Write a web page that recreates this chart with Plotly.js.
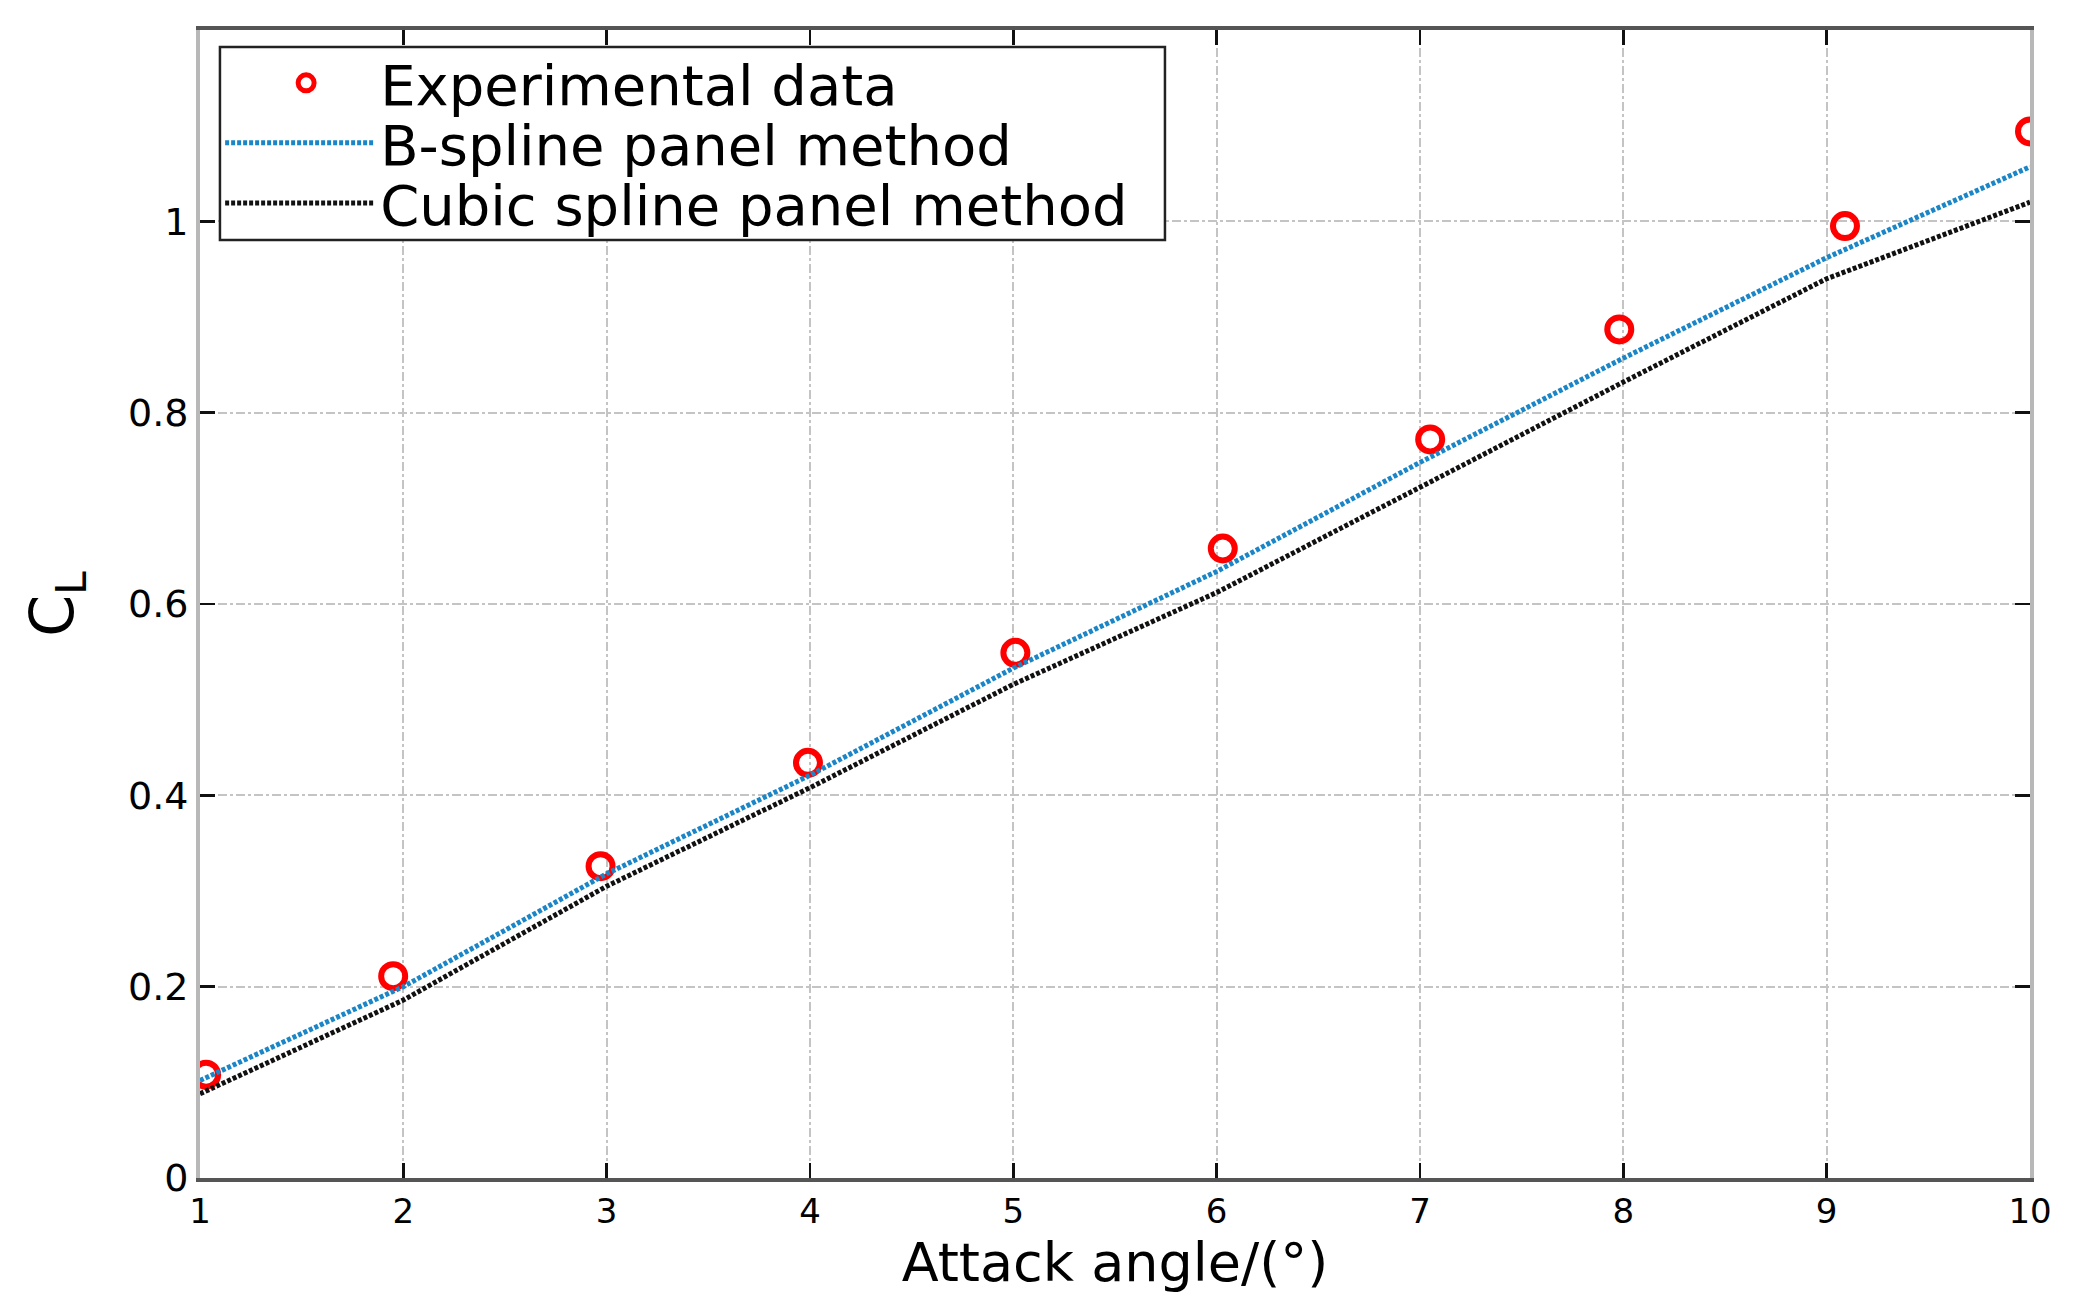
<!DOCTYPE html>
<html><head><meta charset="utf-8">
<script src="https://cdn.plot.ly/plotly-3.0.1.min.js"></script>
<style>html,body{margin:0;padding:0;background:#fff}#chart{width:2080px;height:1310px}</style>
</head><body><div id="chart"></div>
<script>
// ---- data ----
const expAngle = [1.03, 1.95, 2.97, 3.99, 5.01, 6.03, 7.05, 7.98, 9.09, 10.0];
const expCL = [0.108, 0.211, 0.326, 0.434, 0.549, 0.658, 0.772, 0.887, 0.995, 1.094];
const angle = [1, 2, 3, 4, 5, 6, 7, 8, 9, 10];
const bsplineCL = [0.102, 0.200, 0.318, 0.421, 0.533, 0.634, 0.748, 0.857, 0.962, 1.057];
const cubicCL = [0.088, 0.186, 0.305, 0.408, 0.516, 0.612, 0.722, 0.832, 0.940, 1.020];
const seriesNames = ['Experimental data', 'B-spline panel method', 'Cubic spline panel method'];
const xTickVals = [1, 2, 3, 4, 5, 6, 7, 8, 9, 10];
const yTickVals = [0, 0.2, 0.4, 0.6, 0.8, 1];
const yTickText = ['0', '0.2', '0.4', '0.6', '0.8', '1'];
const xTitle = 'Attack angle/(°)';
const yTitle = 'C<sub>L</sub>';

const FONT = 'DejaVu Sans, Arial, sans-serif';
const LEG_FONT = {family: FONT, size: 56, color: '#000'};

const traces = [
  {x: expAngle, y: expCL, name: seriesNames[0], type: 'scatter', mode: 'markers', legend: 'legend',
   marker: {symbol: 'circle-open', size: 24, color: '#ff0000', line: {width: 6, color: '#ff0000'}}},
  {x: angle, y: bsplineCL, name: seriesNames[1], type: 'scatter', mode: 'lines', legend: 'legend2',
   line: {color: '#1a86c8', width: 5, dash: '4px,2px'}},
  {x: angle, y: cubicCL, name: seriesNames[2], type: 'scatter', mode: 'lines', legend: 'legend3',
   line: {color: '#111111', width: 5, dash: '4px,2px'}}
];

function legendAt(yPaper) {
  return {x: 0.011, y: yPaper, xanchor: 'left', yanchor: 'middle',
    bgcolor: 'rgba(0,0,0,0)', borderwidth: 0, font: LEG_FONT, itemwidth: 150};
}

const layout = {
  width: 2080, height: 1310,
  margin: {l: 200, r: 50, t: 30, b: 132},
  paper_bgcolor: '#ffffff', plot_bgcolor: '#ffffff',
  font: {family: FONT, color: '#000'},
  showlegend: true,
  legend: legendAt(0.9539),
  legend2: legendAt(0.9016),
  legend3: legendAt(0.8493),
  shapes: [{type: 'rect', xref: 'paper', yref: 'paper', x0: 0.0109, x1: 0.5273, y0: 0.8171, y1: 0.9852,
    fillcolor: '#ffffff', line: {color: '#222', width: 2.5}, layer: 'above'}],
  xaxis: {range: [1, 10], tickvals: xTickVals, showgrid: true, gridcolor: '#c4c4c4', griddash: 'dashdot', gridwidth: 2,
    showline: true, linecolor: '#555', linewidth: 4, mirror: 'ticks', ticks: 'inside', ticklen: 15, tickwidth: 2.5, tickcolor: '#111',
    zeroline: false, tickfont: {family: FONT, size: 34, color: '#000'},
    title: {text: xTitle, font: {family: FONT, size: 54, color: '#000'}, standoff: 14}},
  yaxis: {range: [0, 1.2], tickvals: yTickVals, ticktext: yTickText, showgrid: true, gridcolor: '#c4c4c4', griddash: 'dashdot', gridwidth: 2,
    showline: true, linecolor: '#b8b8b8', linewidth: 4, mirror: 'ticks', ticks: 'inside', ticklen: 15, tickwidth: 2.5, tickcolor: '#111',
    zeroline: false, tickfont: {family: FONT, size: 38, color: '#000'},
    title: {text: yTitle, font: {family: FONT, size: 60, color: '#000'}, standoff: 36}}
};

Plotly.newPlot('chart', traces, layout, {displayModeBar: false, staticPlot: true}).then(function (gd) {
  // widen the legend line samples and centre the marker sample, as in the reference
  gd.querySelectorAll('.legend .traces').forEach(function (g) {
    g.querySelectorAll('.legendlines path').forEach(function (p) { p.setAttribute('d', 'M25,0h117'); });
    g.querySelectorAll('.legendpoints path').forEach(function (p) { p.setAttribute('transform', 'translate(86,0)'); });
  });
});
</script>
</body></html>
